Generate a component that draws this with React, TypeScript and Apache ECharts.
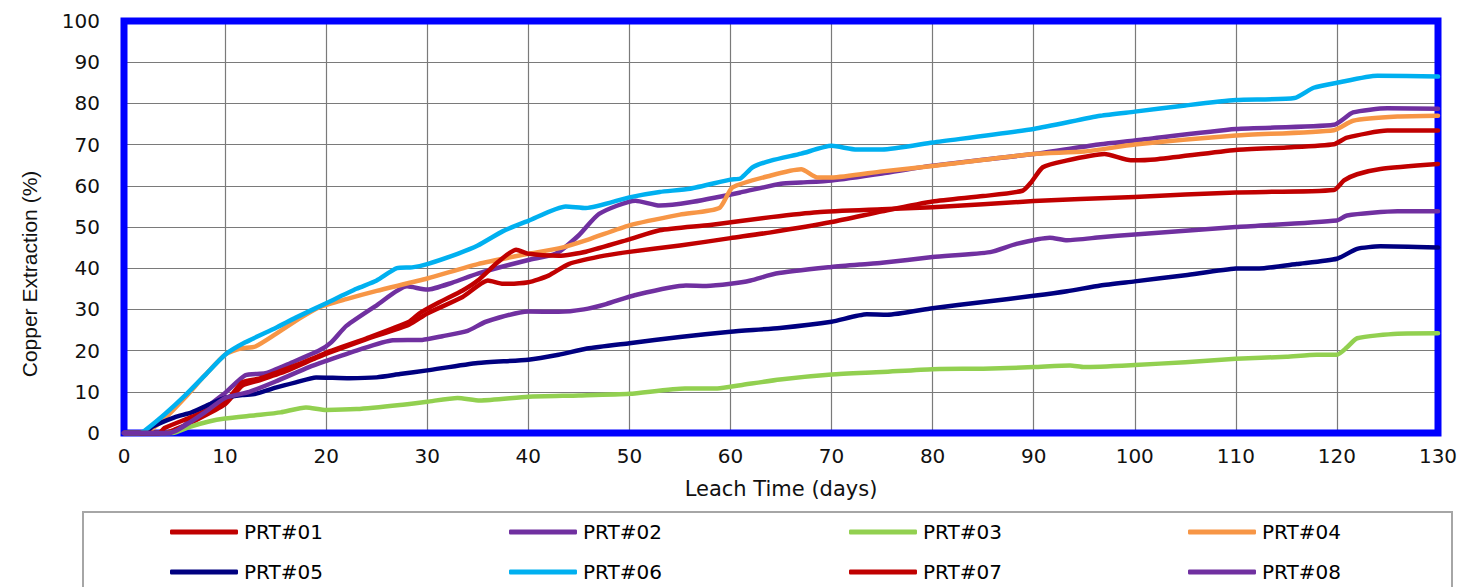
import React, { useEffect, useRef } from 'react';
import * as echarts from 'echarts';

const seriesNames = ['PRT#01', 'PRT#02', 'PRT#03', 'PRT#04', 'PRT#05', 'PRT#06', 'PRT#07', 'PRT#08'];
const seriesColors = ['#C00000', '#7030A0', '#92D050', '#F79646', '#000080', '#00B0F0', '#C00000', '#7030A0'];

const prt01 = [[0,0],[4,0],[5,0.8],[7,3],[10,7],[11.7,11.5],[13.4,12.8],[16,15],[19,18.2],[20.3,19.5],[24,22.8],[28.2,26.3],[30,29],[33.5,33],[36,37],[37.5,36.2],[40,36.6],[42,38.2],[44,41],[47,42.8],[49.8,43.9],[55,45.5],[60,47.3],[64,48.7],[70,51.2],[75,53.8],[80,56.2],[85,57.5],[88.9,58.8],[89.8,61],[90.9,64.5],[93,66],[97,67.7],[99.6,66.2],[102,66.4],[110,68.7],[115,69.3],[119.7,70.1],[121,71.7],[125,73.4],[130,73.4]];
const prt02 = [[0,0],[4.5,0],[5.5,1],[8,6],[10,9.7],[12,14],[14,14.5],[16.5,17],[19.3,20],[20.5,22],[22,26],[25,31],[28,35.6],[30,34.8],[32.5,36.5],[35,38.7],[40,42],[42.7,43.5],[45,48],[47,53.2],[50.6,56.4],[53,55.2],[56,56],[61,58.4],[65,60.5],[67,60.8],[70,61.3],[75,63],[80,64.9],[90,67.7],[96.6,70.1],[100,71],[110,73.8],[119.7,74.8],[121.6,77.8],[125,78.8],[130,78.7]];
const prt03 = [[0,0],[4.8,0],[6.5,1.5],[8.4,2.8],[10,3.5],[13,4.3],[15.5,5],[18,6.2],[20,5.6],[23,5.8],[27.3,6.8],[30,7.6],[33,8.5],[35.2,7.9],[40,8.8],[45,9.1],[50,9.5],[55.5,10.8],[58.7,10.8],[61,11.6],[64.9,13],[70,14.2],[75,14.8],[80,15.5],[85,15.6],[90,16],[93.6,16.4],[95,16],[100,16.5],[105,17.2],[110,18],[115,18.5],[118,19],[120,19],[121,20.8],[122,23],[126,24.1],[130,24.2]];
const prt04 = [[0,0],[2,0],[4,3.5],[6,8.5],[8,14],[10,19],[11.5,20.5],[13,21],[15,24],[17.5,28],[19.3,30.5],[22,32.5],[25,34.5],[30,37.5],[35,41],[40,43.5],[43,44.8],[46,47],[50,50.4],[55,53],[58.9,54.6],[60.2,59.6],[64,62.5],[67,64],[68.6,62],[70,62],[75,63.5],[80,64.8],[90,67.7],[95,68.3],[100,70],[110,72.2],[119.7,73.5],[121.6,75.8],[126,76.8],[130,77]];
const prt05 = [[0,0],[2,0],[2.8,1.5],[5,3.8],[6.7,5],[8.5,7],[10,8.5],[11.7,9.2],[13,9.5],[15,11],[17,12.3],[19,13.5],[22.3,13.3],[25,13.5],[27.3,14.3],[30,15.2],[35,17],[40,17.8],[43,19],[45.8,20.5],[50,21.8],[55,23.3],[60,24.6],[64.9,25.5],[70,27],[73.5,28.8],[75.5,28.7],[80,30.3],[85,31.8],[90,33.3],[93.3,34.4],[96.6,35.8],[100,36.8],[105,38.3],[110,39.9],[112.8,40],[116,41],[120,42.3],[122,44.7],[124.3,45.3],[130,45]];
const prt06 = [[0,0],[1.5,0],[2,0.5],[4,4.5],[6,9],[8,14],[10,19],[12,22],[15,25.5],[17,28],[20,31.5],[23,35],[25,37],[27,40],[28.5,40.2],[30,41],[33,43.5],[35,45.5],[37.5,49],[40,51.5],[43.7,55],[45.7,54.6],[50,57.2],[53,58.5],[56,59.3],[60,61.5],[61,61.8],[62.2,64.5],[64,66.1],[67,67.8],[70,69.7],[72.5,68.8],[75,68.8],[80,70.5],[90,73.8],[96.6,77],[100,78],[105,79.5],[110,80.8],[115.8,81.3],[117.7,83.8],[120,85],[124,86.7],[130,86.5]];
const prt07 = [[0,0],[3.5,0],[4,1.2],[6.7,3.9],[10,7.5],[11.7,12.3],[13.4,13.2],[16,15.5],[19,18.4],[20.3,19.8],[24,23],[28.2,27],[29.2,29],[31,31.5],[33.5,34.6],[35,37],[37,41.5],[38.8,44.5],[40,43.5],[43,43],[45.7,44],[50,47],[53,49.2],[58,50.5],[64,52.4],[68.6,53.6],[75,54.3],[80,54.8],[90,56.3],[94.6,56.8],[100,57.3],[110,58.4],[119.7,59],[120.7,61.3],[122,62.8],[124.3,64.1],[130,65.3]];
const prt08 = [[0,0],[4.5,0],[5.5,1],[8,5],[10,8.5],[12.4,10],[15,12.5],[18.3,16],[20,17.5],[23,20],[26.6,22.5],[29.5,22.6],[31.5,23.5],[34,24.8],[35.8,27],[40,29.5],[43,29.4],[45.5,30],[47.7,31.3],[50.6,33.5],[55.6,35.8],[57.6,35.7],[60,36.2],[62,37],[64.5,38.7],[70,40.3],[72.8,40.9],[75,41.3],[80,42.7],[85.7,43.9],[88.3,45.9],[91.6,47.4],[93.3,46.8],[96.6,47.5],[100,48.2],[110,50],[120,51.6],[121,52.8],[126,53.8],[130,53.8]];

const seriesData = [prt01, prt02, prt03, prt04, prt05, prt06, prt07, prt08];

const xTitle = 'Leach Time (days)';
const yTitle = 'Copper Extraction (%)';

const legendColumnsX = [170, 509, 849, 1188];
const legendRowsY = [522, 562];

const FONT = "'DejaVu Sans', 'Liberation Sans', Arial, sans-serif";
const FONT_NARROW = "'Liberation Sans', Arial, sans-serif";

export default function App() {
  const ref = useRef<HTMLDivElement>(null);
  useEffect(() => {
    if (!ref.current) return;
    const chart = echarts.init(ref.current, null, { renderer: 'svg' });
    const legends = seriesNames.map((name, i) => ({
      show: true,
      data: [{ name }],
      left: legendColumnsX[i % 4],
      top: legendRowsY[Math.floor(i / 4)],
      itemWidth: 68,
      itemHeight: 5,
      icon: 'roundRect',
      padding: 0,
      itemGap: 0,
      selectedMode: false,
      textStyle: { fontFamily: FONT, fontSize: 20, color: '#000', lineHeight: 20, padding: [0, 0, 0, 1] },
    }));
    const option: any = {
      animation: false,
      backgroundColor: '#ffffff',
      textStyle: { fontFamily: FONT },
      grid: { left: 124, right: 24, top: 21, bottom: 154, show: false },
      xAxis: {
        type: 'value', min: 0, max: 130, interval: 10,
        name: xTitle, nameLocation: 'middle', nameGap: 45,
        nameTextStyle: { fontFamily: FONT, fontSize: 21, color: '#111' },
        axisLine: { show: false }, axisTick: { show: false },
        axisLabel: { fontFamily: FONT, fontSize: 20, color: '#111', margin: 13 },
        splitLine: { show: true, lineStyle: { color: '#7a7a7a', width: 1.2 } },
      },
      yAxis: {
        type: 'value', min: 0, max: 100, interval: 10,
        axisLine: { show: false }, axisTick: { show: false },
        axisLabel: { fontFamily: FONT, fontSize: 20, color: '#111', margin: 24 },
        splitLine: { show: true, lineStyle: { color: '#7a7a7a', width: 1.2 } },
      },
      legend: legends,
      graphic: [
        {
          type: 'rect', z: 2,
          shape: { x: 124, y: 21, width: 1314, height: 412 },
          style: { fill: 'none', stroke: '#0000FF', lineWidth: 7 },
        },
        {
          type: 'text', z: 2,
          x: 29, y: 274, rotation: Math.PI / 2,
          style: {
            text: yTitle, fontFamily: FONT_NARROW, fontSize: 21, fill: '#111',
            align: 'center', verticalAlign: 'middle',
          },
        },
        {
          type: 'rect', z: -1,
          shape: { x: 83, y: 512, width: 1369, height: 100 },
          style: { fill: 'none', stroke: '#a6a6a6', lineWidth: 2 },
        },
      ],
      series: seriesNames.map((name, i) => ({
        name,
        type: 'line',
        data: seriesData[i],
        showSymbol: false,
        symbol: 'none',
        clip: false,
        smooth: 0.2,
        color: seriesColors[i],
        lineStyle: { color: seriesColors[i], width: 4.5, cap: 'round', join: 'round' },
        z: 3 + i,
      })),
    };
    chart.setOption(option);
    return () => chart.dispose();
  }, []);
  return <div ref={ref} style={{ position: 'absolute', left: 0, top: 0, width: 1462, height: 587 }} />;
}
